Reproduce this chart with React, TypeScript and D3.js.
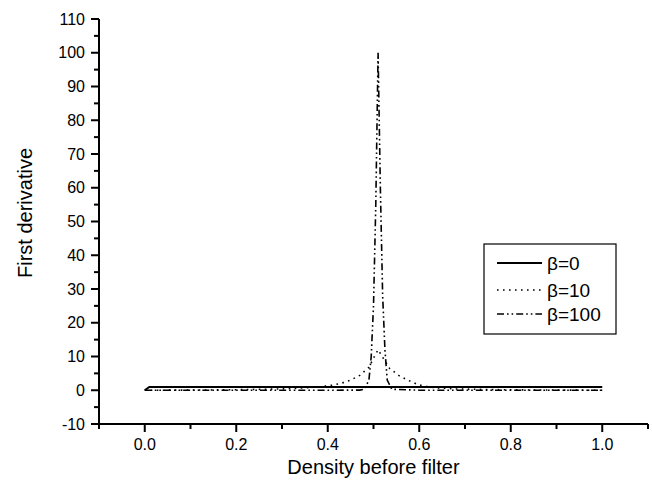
import React from "react";
import * as d3 from "d3";

const xB0 = [0, 0.01, 1.0];
const yB0 = [0, 1, 1];

const xB10 = [0, 0.1, 0.2, 0.3, 0.35, 0.38, 0.41, 0.43, 0.45, 0.47, 0.49, 0.5, 0.51, 0.52, 0.535, 0.555, 0.575, 0.595, 0.61, 0.64, 0.68, 0.75, 0.85, 1.0];
const yB10 = [0, 0.05, 0.15, 0.4, 0.7, 1.0, 1.5, 2.1, 3, 4.4, 6.8, 9.5, 12, 9.8, 6.5, 4.4, 3, 1.8, 1.2, 0.7, 0.4, 0.2, 0.08, 0];

const xB100 = [0, 0.2, 0.4, 0.47, 0.48, 0.49, 0.495, 0.5, 0.505, 0.51, 0.515, 0.52, 0.525, 0.53, 0.54, 0.6, 0.8, 1.0];
const yB100 = [0, 0, 0, 0.05, 0.3, 3, 10, 25, 55, 100, 60, 28, 12, 3, 0.3, 0.02, 0, 0];

const seriesNames = ["β=0", "β=10", "β=100"];
const xTickLabels = ["0.0", "0.2", "0.4", "0.6", "0.8", "1.0"];
const yTickValues = [-10, 0, 10, 20, 30, 40, 50, 60, 70, 80, 90, 100, 110];

const W = 652, H = 486;
const L = 99, R = 648, T = 19, B = 424;
const FONT = "Liberation Sans, Arial, sans-serif";

export default function App() {
  const x = d3.scaleLinear().domain([-0.1, 1.1]).range([L, R]);
  const y = d3.scaleLinear().domain([-10, 110]).range([B, T]);
  const line = d3.line<[number, number]>().x(d => x(d[0])).y(d => y(d[1]));
  const zip = (a: number[], b: number[]) => a.map((v, i) => [v, b[i]] as [number, number]);

  const styles = [
    { dash: undefined as string | undefined, w: 2 },
    { dash: "1.6,4.4", w: 1.6 },
    { dash: "7,3,1.6,3,1.6,3", w: 1.6 },
  ];
  const data = [zip(xB0, yB0), zip(xB10, yB10), zip(xB100, yB100)];

  const xMajor = xTickLabels.map(s => parseFloat(s));
  const xMinor = d3.range(-0.1, 1.11, 0.2).map(v => Math.round(v * 10) / 10);
  const yMinor = d3.range(-5, 110, 10);

  const legX = 484, legY = 244, legW = 132, legH = 90;
  const rowY = [263, 290, 314];

  return (
    <svg width={W} height={H} style={{ position: "absolute", left: 0, top: 0, background: "#fff" }} fontFamily={FONT}>
      <rect x={0} y={0} width={W} height={H} fill="#fff" />
      {data.map((d, i) => (
        <path key={i} d={line(d) || ""} fill="none" stroke="#000" strokeWidth={styles[i].w} strokeDasharray={styles[i].dash} />
      ))}
      <line x1={L} x2={L} y1={T} y2={B + 1} stroke="#000" strokeWidth={2} />
      <line x1={L - 1} x2={R} y1={B} y2={B} stroke="#000" strokeWidth={2} />
      {yTickValues.map(v => (
        <g key={"y" + v}>
          <line x1={L - 8} x2={L} y1={y(v)} y2={y(v)} stroke="#000" strokeWidth={2} />
          <text x={L - 14} y={y(v)} dy="0.35em" textAnchor="end" fontSize={16} fill="#000">{v}</text>
        </g>
      ))}
      {yMinor.map(v => (
        <line key={"ym" + v} x1={L - 5} x2={L} y1={y(v)} y2={y(v)} stroke="#000" strokeWidth={2} />
      ))}
      {xMajor.map((v, i) => (
        <g key={"x" + v}>
          <line x1={x(v)} x2={x(v)} y1={B} y2={B + 8} stroke="#000" strokeWidth={2} />
          <text x={x(v)} y={B + 26} textAnchor="middle" fontSize={16} fill="#000">{xTickLabels[i]}</text>
        </g>
      ))}
      {xMinor.map(v => (
        <line key={"xm" + v} x1={x(v)} x2={x(v)} y1={B} y2={B + 5} stroke="#000" strokeWidth={2} />
      ))}
      <text x={x(0.5)} y={474} textAnchor="middle" fontSize={20} fill="#000">Density before filter</text>
      <text transform={`translate(${32},${213}) rotate(-90)`} textAnchor="middle" fontSize={20} fill="#000">First derivative</text>
      <rect x={legX} y={legY} width={legW} height={legH} fill="#fff" stroke="#000" strokeWidth={1.2} />
      {seriesNames.map((s, i) => (
        <g key={s}>
          <line x1={497} x2={542} y1={rowY[i]} y2={rowY[i]} stroke="#000" strokeWidth={styles[i].w} strokeDasharray={styles[i].dash} />
          <text x={547} y={rowY[i]} dy="0.35em" fontSize={19} fill="#000">{s}</text>
        </g>
      ))}
    </svg>
  );
}
